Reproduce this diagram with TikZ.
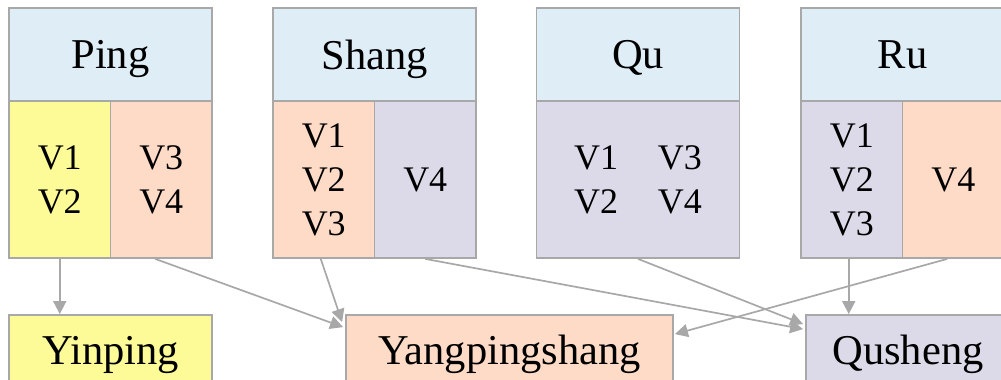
\documentclass[tikz,border=0pt]{standalone}
\usepackage{fontspec}
\setmainfont{Liberation Serif}
\usetikzlibrary{arrows.meta,calc}
\definecolor{hdr}{HTML}{DFEDF7}
\definecolor{yel}{HTML}{FDFA98}
\definecolor{pea}{HTML}{FDDBC7}
\definecolor{lav}{HTML}{DCDAE8}
\definecolor{edgegray}{HTML}{A8A8A8}
\begin{document}
\begin{tikzpicture}[x=1pt,y=-1pt,
  cell/.style={draw=edgegray,line width=1.8pt,inner sep=0pt,anchor=center,align=center},
  hdrbox/.style={cell,fill=hdr,minimum width=203pt,minimum height=93pt,text depth=0pt,font=\fontsize{42.5}{50}\selectfont},
  lowbox/.style={cell,minimum height=157pt,font=\fontsize{36}{44}\selectfont},
  halfbox/.style={lowbox,minimum width=101.5pt},
  botbox/.style={cell,minimum height=70pt,text depth=0pt,font=\fontsize{42.5}{50}\selectfont},
  conn/.style={draw=edgegray,line width=1.7pt,-{Triangle[length=13pt,width=13pt]}}
]
\useasboundingbox (0,0) rectangle (1001,380);
\clip (0,0) rectangle (1001,380);
% Ping
\node[hdrbox] (pingH) at (110.5,54.5) {Ping};
\node[halfbox,fill=yel] (pingL) at (59.75,179.5) {V1\\V2};
\node[halfbox,fill=pea] (pingR) at (161.25,179.5) {V3\\V4};
% Shang
\node[hdrbox] (shangH) at (374.5,54.5) {Shang};
\node[halfbox,fill=pea] (shangL) at (323.75,179.5) {V1\\V2\\V3};
\node[halfbox,fill=lav] (shangR) at (425.25,179.5) {V4};
% Qu
\node[hdrbox] (quH) at (638,54.5) {Qu};
\node[lowbox,fill=lav,minimum width=203pt] (quB) at (638,179.5) {V1\hspace{1.1em}V3\\V2\hspace{1.1em}V4};
% Ru
\node[hdrbox] (ruH) at (902.5,54.5) {Ru};
\node[halfbox,fill=lav] (ruL) at (851.75,179.5) {V1\\V2\\V3};
\node[halfbox,fill=pea] (ruR) at (953.25,179.5) {V4};
% bottom row
\node[botbox,fill=yel,minimum width=203pt] (yinping) at (110.5,350) {Yinping};
\node[botbox,fill=pea,minimum width=327pt] (yang) at (509.5,350) {Yangpingshang};
\node[botbox,fill=lav,minimum width=204pt] (qush) at (908,350) {Qusheng};
% connectors
\draw[conn] (pingL.south) -- (pingL.south |- yinping.north);
\draw[conn] ($(pingR.south)+(-6,0)$) -- ($(yang.north west)+(-2,13)$);
\draw[conn] ($(shangL.south)+(-3,0)$) -- ($(yang.north west)+(-3,8)$);
\draw[conn] (shangR.south) -- ($(qush.north west)+(-2,15)$);
\draw[conn] (quB.south) -- ($(qush.north west)+(-2,10)$);
\coordinate (rlS) at ($(ruL.south)+(-3,0)$);
\draw[conn] (rlS) -- (rlS |- qush.north);
\draw[conn] ($(ruR.south)+(-6,0)$) -- ($(yang.north east)+(1,20)$);
\end{tikzpicture}
\end{document}
